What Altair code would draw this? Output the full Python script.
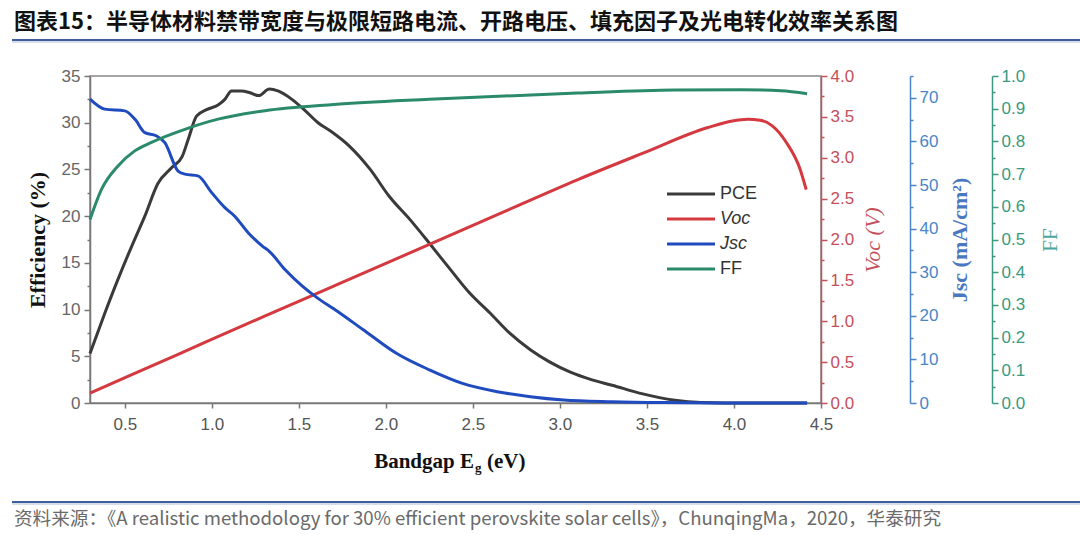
import altair as alt
import pandas as pd

# ---------------- data ----------------
eg_pce = [0.30, 0.385, 0.46, 0.54, 0.615, 0.69, 0.77, 0.83, 0.864, 0.912, 0.97, 1.036,
          1.075, 1.113, 1.17, 1.22, 1.27, 1.33, 1.38, 1.46, 1.53, 1.61, 1.69, 1.79,
          1.91, 2.02, 2.14, 2.25, 2.37, 2.48, 2.60, 2.71, 2.83, 2.94, 3.06, 3.18, 3.30, 3.47,
          3.66, 3.81, 3.95, 4.42]
pce = [5.3, 9.6, 13.2, 16.8, 20.0, 23.5, 25.2, 26.4, 28.2, 30.7, 31.4, 31.9,
       32.5, 33.4, 33.4, 33.2, 32.9, 33.6, 33.4, 32.5, 31.4, 30.0, 29.0, 27.5,
       25.0, 22.1, 19.6, 17.1, 14.3, 11.8, 9.6, 7.5, 5.7, 4.4, 3.3, 2.5, 1.9, 1.0,
       0.3, 0.05, 0.0, 0.0]

eg_voc = [0.30, 0.80, 1.30, 1.70, 2.25, 2.70, 3.10, 3.47, 3.85, 3.99, 4.08, 4.15, 4.22, 4.30, 4.38, 4.415]
voc = [0.12, 0.59, 1.06, 1.43, 1.94, 2.36, 2.73, 3.05, 3.37, 3.45, 3.47, 3.46, 3.39, 3.19, 2.86, 2.61]

eg_jsc = [0.30, 0.385, 0.50, 0.56, 0.615, 0.68, 0.73, 0.806, 0.845, 0.92, 1.00,
          1.075, 1.13, 1.21, 1.29, 1.33, 1.42, 1.52, 1.61, 1.70, 1.87, 2.06, 2.25, 2.44,
          2.64, 2.83, 3.02, 3.30, 3.60, 3.90, 4.42]
jsc = [69.7, 67.4, 67.0, 65.0, 62.0, 61.3, 59.7, 53.2, 52.5, 52.1, 48.2,
       44.8, 42.9, 39.0, 36.0, 34.8, 30.6, 26.8, 24.0, 21.6, 16.8, 11.4, 7.6, 4.5,
       2.6, 1.45, 0.7, 0.3, 0.1, 0.02, 0.0]

eg_ff = [0.30, 0.366, 0.461, 0.557, 0.653, 0.845, 1.036, 1.305, 1.70, 2.25,
         3.10, 3.66, 4.04, 4.27, 4.42]
ff = [0.561, 0.653, 0.725, 0.771, 0.797, 0.837, 0.868, 0.894, 0.913,
      0.929, 0.948, 0.957, 0.958, 0.955, 0.946]

x_ticks = [0.5, 1.0, 1.5, 2.0, 2.5, 3.0, 3.5, 4.0, 4.5]
eff_ticks = [i * 2.5 for i in range(15)]
voc_ticks = [i * 0.25 for i in range(17)]
jsc_ticks = [i * 5 for i in range(16)]
ff_ticks = [round(i * 0.05, 2) for i in range(21)]

series_names = ["PCE", "Voc", "Jsc", "FF"]
series_colors = ["#3a3a3a", "#d4393f", "#1f4bbf", "#2b8a6b"]

TITLE = "图表15：半导体材料禁带宽度与极限短路电流、开路电压、填充因子及光电转化效率关系图"
SOURCE = "资料来源：《A realistic methodology for 30% efficient perovskite solar cells》，ChunqingMa，2020，华泰研究"

# ---------------- layout ----------------
W, H = 731, 327
PAD = {"left": 90, "top": 76, "right": 259, "bottom": 141}

SERIF = "Liberation Serif"
SANS = "Liberation Sans"

x_enc = alt.X(
    "Eg:Q",
    scale=alt.Scale(domain=[0.3, 4.5], nice=False, zero=False),
    axis=alt.Axis(values=x_ticks, format=".1f", title=None, labelFont=SANS, labelFontSize=17,
                  labelColor="#555555", tickColor="#777777", domainColor="#777777", tickSize=5,
                  labelPadding=8, grid=False, labelFlush=False, domainWidth=1.5, tickWidth=1.5),
)


def minor_size(test):
    return {"condition": {"test": test, "value": 6}, "value": 3}


ax_eff = alt.Axis(orient="left", values=eff_ticks, title="Efficiency (%)",
                  labelExpr="datum.value % 5 === 0 ? datum.label : ''",
                  tickSize=minor_size("datum.value % 5 === 0"),
                  labelFont=SANS, labelFontSize=17, labelColor="#666666", labelPadding=4,
                  tickColor="#777777", domainColor="#777777", domainWidth=1.5, tickWidth=1.5,
                  titleFont=SERIF, titleFontSize=22, titleFontWeight="bold", titleColor="#111111",
                  titlePadding=12, grid=False)

ax_voc = alt.Axis(orient="right", offset=0, values=voc_ticks, title="Voc (V)", format=".1f",
                  labelExpr="datum.value % 0.5 === 0 ? datum.label : ''",
                  tickSize=minor_size("datum.value % 0.5 === 0"),
                  labelFont=SANS, labelFontSize=17, labelColor="#c4505a", labelPadding=3,
                  tickColor="#c4505a", domainColor="#c4505a", domainWidth=1.5, tickWidth=1.5,
                  titleFont=SERIF, titleFontSize=22, titleFontStyle="italic", titleFontWeight="normal",
                  titleColor="#c4505a", titleAngle=270, titleBaseline="top", titlePadding=9, grid=False)

ax_jsc = alt.Axis(orient="right", offset=89, values=jsc_ticks, title="Jsc (mA/cm²)",
                  labelExpr="datum.value % 10 === 0 && datum.value < 75 ? datum.label : ''",
                  tickSize=minor_size("datum.value % 10 === 0"),
                  labelFont=SANS, labelFontSize=17, labelColor="#4a86c8", labelPadding=3,
                  tickColor="#4a86c8", domainColor="#4a86c8", domainWidth=1.5, tickWidth=1.5,
                  titleFont=SERIF, titleFontSize=22, titleFontWeight="bold",
                  titleColor="#4a78c0", titleAngle=270, titleBaseline="top", titlePadding=12, grid=False)

ax_ff = alt.Axis(orient="right", offset=171, values=ff_ticks, title="FF", format=".1f",
                 labelExpr="round(datum.value * 100) % 10 === 0 ? datum.label : ''",
                 tickSize=minor_size("round(datum.value * 100) % 10 === 0"),
                 labelFont=SANS, labelFontSize=17, labelColor="#3a9a80", labelPadding=3,
                 tickColor="#3a9a80", domainColor="#3a9a80", domainWidth=1.5, tickWidth=1.5,
                 titleFont=SERIF, titleFontSize=21, titleFontWeight="normal",
                 titleColor="#4aa8a0", titleAngle=270, titleBaseline="top", titlePadding=15, grid=False)

df_pce = pd.DataFrame({"Eg": eg_pce, "val": pce})
df_voc = pd.DataFrame({"Eg": eg_voc, "val": voc})
df_jsc = pd.DataFrame({"Eg": eg_jsc, "val": jsc})
df_ff = pd.DataFrame({"Eg": eg_ff, "val": ff})


def line(df, color, domain, axis):
    return alt.Chart(df).mark_line(color=color, strokeWidth=3, interpolate="monotone").encode(
        x=x_enc,
        y=alt.Y("val:Q", scale=alt.Scale(domain=domain, nice=False, zero=False), axis=axis),
    )


l_pce = line(df_pce, series_colors[0], [0, 35], ax_eff)
l_voc = line(df_voc, series_colors[1], [0, 4], ax_voc)
l_jsc = line(df_jsc, series_colors[2], [0, 75], ax_jsc)
l_ff = line(df_ff, series_colors[3], [0, 1], ax_ff)

one = pd.DataFrame({"k": [0]})


def text(s, x, y, size, color, font, weight="normal", style="normal", align="left"):
    return alt.Chart(one).mark_text(align=align, baseline="middle", fontSize=size, font=font,
                                    fontWeight=weight, fontStyle=style, color=color).encode(
        x=alt.value(x), y=alt.value(y), text=alt.value(s))


def rule(x1, x2, y, color, width):
    return alt.Chart(one).mark_rule(color=color, strokeWidth=width).encode(
        x=alt.value(x1), x2=alt.value(x2), y=alt.value(y))


# legend (inside plot)
legend_layers = []
leg_y = [118, 143, 168, 193]
leg_style = ["normal", "italic", "italic", "normal"]
for name, col, yy, st in zip(series_names, series_colors, leg_y, leg_style):
    legend_layers.append(rule(577, 625, yy, col, 3))
    legend_layers.append(text(name, 630, yy, 18, "#333333", SANS, style=st))

deco = [
    text(TITLE, -76, -54, 22, "#111111", "Noto Sans CJK SC", weight="bold"),
    rule(-78, 990, -36, "#3e5f99", 2),
    rule(-78, 990, -34, "#aebbd8", 1),
    rule(-78, 990, 426, "#3e5f99", 2),
    rule(-78, 990, 428, "#aebbd8", 1),
    text(SOURCE, -76, 443, 18.6, "#6a6a6a", "Noto Sans CJK SC"),
    text("Bandgap E", 384, 386, 21, "#111111", SERIF, weight="bold", align="right"),
    text("g", 385, 392, 13, "#111111", SERIF, weight="bold"),
    text("(eV)", 397, 386, 21, "#111111", SERIF, weight="bold"),
]

chart = alt.layer(l_pce, l_voc, l_jsc, l_ff, *legend_layers, *deco).resolve_scale(
    y="independent"
).properties(
    width=W, height=H, padding=PAD, autosize=alt.AutoSizeParams(type="none"),
    background="white",
).configure_view(stroke="#888888", strokeWidth=1.5)

chart.save("out.html", embed_options={"renderer": "svg", "actions": False})
